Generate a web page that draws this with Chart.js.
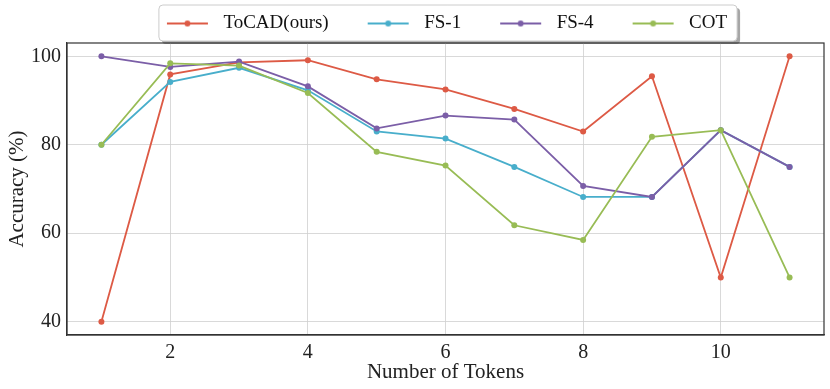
<!DOCTYPE html>
<html><head><meta charset="utf-8">
<script src="https://cdn.jsdelivr.net/npm/chart.js@4.4.1/dist/chart.umd.min.js"></script>
<style>html,body{margin:0;padding:0;background:#fff}#wrap{width:830px;height:389px}</style>
</head><body><div id="wrap"><canvas id="c" width="830" height="389"></canvas></div>
<script>
const tokens = [1, 2, 3, 4, 5, 6, 7, 8, 9, 10, 11];
const tocad = [40, 95.9, 98.6, 99.1, 94.8, 92.5, 88.1, 83.0, 95.5, 50, 100];
const fs1 = [80, 94.2, 97.4, 92.3, 83.0, 81.4, 75.0, 68.2, 68.2, 83.3, 75];
const fs4 = [100, 97.6, 98.8, 93.2, 83.7, 86.6, 85.7, 70.7, 68.2, 83.3, 75];
const cot = [80, 98.4, 97.9, 91.7, 78.4, 75.3, 61.8, 58.5, 81.8, 83.3, 50];
const seriesNames = ['ToCAD(ours)', 'FS-1', 'FS-4', 'COT'];
const xTicks = [2, 4, 6, 8, 10];
const yTicks = [40, 60, 80, 100];
const colors = ['#dd5a45', '#48aecb', '#7b5ea7', '#98bc55'];

const FONT = "'Liberation Serif', 'DejaVu Serif', serif";
const ICON_L = 29, ICON_LINE = 41, ICON_R = 6;

function legendIcon(color) {
  const c = document.createElement('canvas');
  c.width = ICON_L + ICON_LINE + ICON_R; c.height = 12;
  const g = c.getContext('2d');
  g.strokeStyle = color; g.lineWidth = 1.8;
  g.beginPath(); g.moveTo(ICON_L, 6); g.lineTo(ICON_L + ICON_LINE, 6); g.stroke();
  g.fillStyle = color;
  g.beginPath(); g.arc(ICON_L + ICON_LINE / 2, 6, 3, 0, Math.PI * 2); g.fill();
  return c;
}
const icons = colors.map(legendIcon);

const allSeries = [tocad, fs1, fs4, cot];
const datasets = allSeries.map((vals, i) => ({
  label: seriesNames[i],
  data: tokens.map((t, k) => ({ x: t, y: vals[k] })),
  borderColor: colors[i],
  backgroundColor: colors[i],
  borderWidth: 1.8,
  pointRadius: 3,
  pointBorderWidth: 0,
  pointHoverRadius: 3,
  tension: 0,
  order: 4 - i
}));

const legendFrame = {
  id: 'legendFrame',
  afterLayout(chart) {
    const l = chart.legend;
    const ca = chart.chartArea;
    l.left = ca.left - 13; l.right = ca.right - 13;
  },
  beforeDraw(chart) {
    const l = chart.legend;
    if (!l || !l.lineWidths) return;
    const pad = l.options.labels.padding;
    const w = l.lineWidths[0];
    const x0 = (l.left + pad + l.right - w) / 2;
    const fx = x0 + ICON_L - 8, fw = w - pad - ICON_L + 8 + 10;
    const fy = l.top + 1, fh = l.bottom - l.top - 3;
    const ctx = chart.ctx;
    ctx.save();
    ctx.fillStyle = 'rgba(0,0,0,0.35)';
    roundRect(ctx, fx + 3, fy + 3, fw, fh, 4); ctx.fill();
    ctx.fillStyle = '#fff';
    ctx.strokeStyle = '#cccccc'; ctx.lineWidth = 1;
    roundRect(ctx, fx, fy, fw, fh, 4); ctx.fill(); ctx.stroke();
    ctx.restore();
  },
  afterDraw(chart) {
    const a = chart.chartArea, ctx = chart.ctx;
    ctx.save();
    ctx.strokeStyle = '#333'; ctx.lineWidth = 1.2;
    ctx.strokeRect(a.left, a.top, a.right - a.left, a.bottom - a.top);
    ctx.restore();
  }
};
function roundRect(ctx, x, y, w, h, r) {
  ctx.beginPath();
  ctx.moveTo(x + r, y); ctx.lineTo(x + w - r, y); ctx.arcTo(x + w, y, x + w, y + r, r);
  ctx.lineTo(x + w, y + h - r); ctx.arcTo(x + w, y + h, x + w - r, y + h, r);
  ctx.lineTo(x + r, y + h); ctx.arcTo(x, y + h, x, y + h - r, r);
  ctx.lineTo(x, y + r); ctx.arcTo(x, y, x + r, y, r); ctx.closePath();
}

new Chart(document.getElementById('c'), {
  type: 'line',
  data: { datasets },
  options: {
    responsive: false,
    animation: false,
    layout: { padding: { left: 0, right: 6, top: 4, bottom: 0 } },
    plugins: {
      tooltip: { enabled: false },
      legend: {
        position: 'top',
        labels: {
          font: { family: FONT, size: 19 },
          color: '#111',
          usePointStyle: true,
          pointStyleWidth: ICON_L + ICON_LINE + ICON_R,
          boxHeight: 12,
          padding: 10,
          sort: (a, b) => a.datasetIndex - b.datasetIndex,
          generateLabels(chart) {
            const items = Chart.defaults.plugins.legend.labels.generateLabels(chart);
            items.forEach(it => { it.pointStyle = icons[it.datasetIndex]; });
            return items;
          }
        }
      }
    },
    scales: {
      x: {
        type: 'linear', min: 0.5, max: 11.5,
        afterBuildTicks: s => { s.ticks = xTicks.map(v => ({ value: v })); },
        afterFit: s => { s.height = 54; },
        grid: { color: '#cfcfcf', lineWidth: 0.8, drawTicks: false },
        border: { color: '#333', width: 1.2 },
        ticks: { font: { family: FONT, size: 20 }, color: '#222', padding: 6, maxRotation: 0 },
        title: { display: true, text: 'Number of Tokens', font: { family: FONT, size: 21 }, color: '#222', padding: { top: 0, bottom: 4 } }
      },
      y: {
        min: 37, max: 103,
        afterBuildTicks: s => { s.ticks = yTicks.map(v => ({ value: v })); },
        afterFit: s => { s.width = 67; },
        grid: { color: '#cfcfcf', lineWidth: 0.8, drawTicks: false },
        border: { color: '#333', width: 1.2 },
        ticks: { font: { family: FONT, size: 20 }, color: '#222', padding: 6 },
        title: { display: true, text: 'Accuracy (%)', font: { family: FONT, size: 21 }, color: '#222', padding: { top: 5, bottom: 2 } }
      }
    }
  },
  plugins: [legendFrame]
});
</script></body></html>
